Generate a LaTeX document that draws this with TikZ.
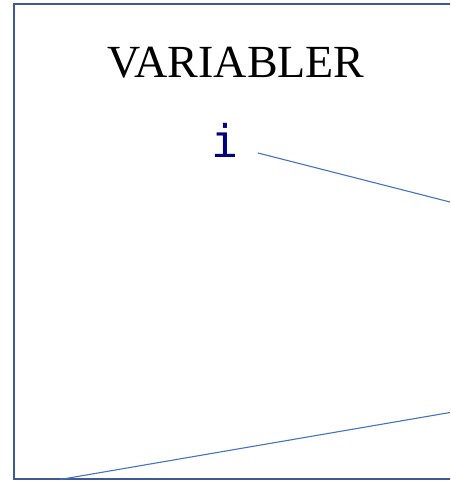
\documentclass[tikz,border=0pt]{standalone}
\usepackage{fontspec}
\setmainfont{Liberation Serif}
\newfontfamily\codefont{DejaVu Sans Mono}
\usepackage{xcolor}
\usepackage{tikz}
\usetikzlibrary{positioning}

\definecolor{framecol}{RGB}{61,90,150}
\definecolor{linkcol}{RGB}{68,114,196}
\definecolor{varcol}{RGB}{0,0,128}

\begin{document}
\begin{tikzpicture}[
  x=1pt,y=-1pt,
  frame/.style={draw=framecol,line width=2.6pt},
  link/.style={draw=linkcol,line width=1.1pt},
  title/.style={font=\fontsize{46}{50}\selectfont,inner sep=0pt},
  var/.style={font=\codefont\fontsize{45}{50}\selectfont,text=varcol,inner sep=0pt}
]
\useasboundingbox (0,0) rectangle (450,481);
\clip (0,0) rectangle (450,481);
% frame (right edge lies outside)
\draw[frame] (470,4) -- (14,4) -- (14,479) -- (470,479);
% texts
\node[title] (head) at (236,63) {VARIABLER};
\node[var] (vi) at (225,140) {i};
% connectors leaving the frame
\coordinate (ia) at (258,153);
\coordinate (ib) at (450,202);
\coordinate (ba) at (60,479.5);
\coordinate (bb) at (450,412.5);
\draw[link] (ia) -- (ib);
\draw[link] (ba) -- (bb);
\end{tikzpicture}
\end{document}
